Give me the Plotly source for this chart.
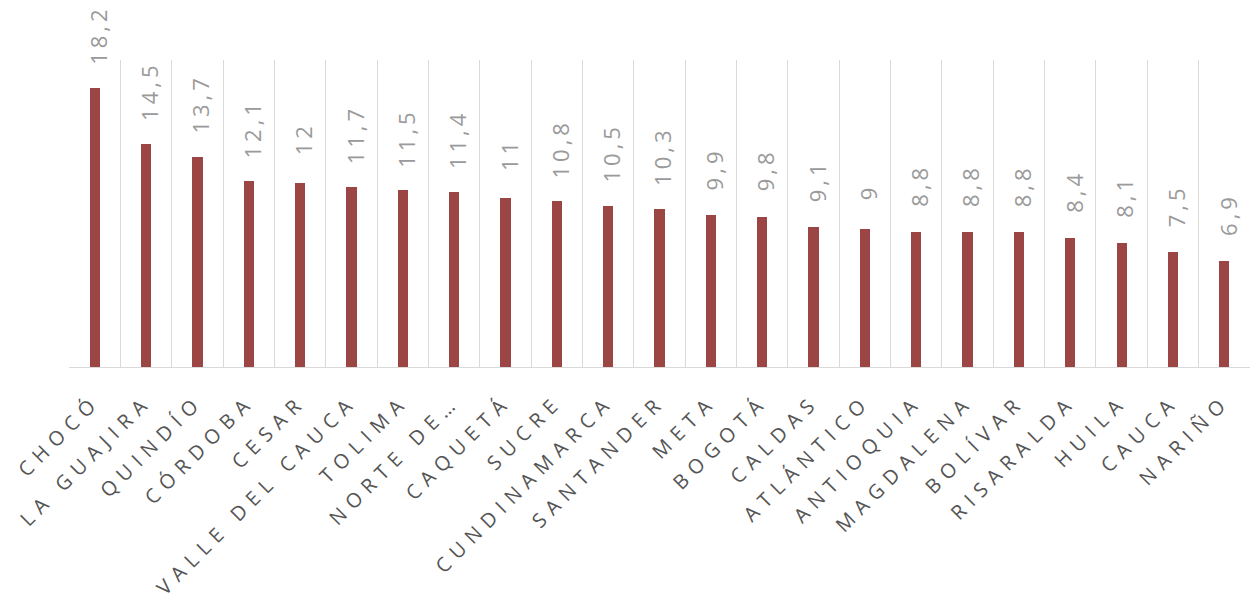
import plotly.graph_objects as go

categories = ["CHOCÓ", "LA GUAJIRA", "QUINDÍO", "CÓRDOBA", "CESAR", "VALLE DEL CAUCA",
              "TOLIMA", "NORTE DE…", "CAQUETÁ", "SUCRE", "CUNDINAMARCA", "SANTANDER",
              "META", "BOGOTÁ", "CALDAS", "ATLÁNTICO", "ANTIOQUIA", "MAGDALENA",
              "BOLÍVAR", "RISARALDA", "HUILA", "CAUCA", "NARIÑO"]
values = [18.2, 14.5, 13.7, 12.1, 12, 11.7, 11.5, 11.4, 11, 10.8, 10.5, 10.3,
          9.9, 9.8, 9.1, 9, 8.8, 8.8, 8.8, 8.4, 8.1, 7.5, 6.9]
labels = [f"{v:g}".replace(".", ",") for v in values]

fig = go.Figure()
fig.add_trace(go.Bar(x=categories, y=values, width=0.2,
                     marker=dict(color="#9C4545", line=dict(width=0)),
                     hoverinfo="skip"))

for c, v, t in zip(categories, values, labels):
    fig.add_annotation(x=c, y=v, text=t, showarrow=False, textangle=-90,
                       yanchor="bottom", xanchor="center", yshift=29, xshift=3,
                       font=dict(family="Open Sans", size=22, color="#9A9A9A"))

fig.update_layout(
    width=1250, height=601,
    margin=dict(l=69, r=0, t=60, b=234),
    paper_bgcolor="white", plot_bgcolor="white",
    showlegend=False, bargap=0,
    xaxis=dict(type="category", tickson="boundaries", showgrid=True,
               gridcolor="#D9D9D9", gridwidth=1, ticks="", showline=True,
               linecolor="#D9D9D9", linewidth=1, tickangle=-45,
               ticklabelstandoff=14,
               tickfont=dict(family="Open Sans", size=20, color="#555555"),
               range=[-0.5, len(categories) - 0.5]),
    yaxis=dict(range=[0, 20], visible=False, showgrid=False, zeroline=False),
)

js = ("var gd=document.getElementById('{plot_id}');"
      "function ls(){"
      "gd.querySelectorAll('.xtick text').forEach(function(t){t.style.letterSpacing='7px';});"
      "gd.querySelectorAll('.annotation-text').forEach(function(t){t.style.letterSpacing='4px';});"
      "}"
      "ls(); gd.on('plotly_afterplot', ls);")
fig.write_html("out.html", post_script=js)
